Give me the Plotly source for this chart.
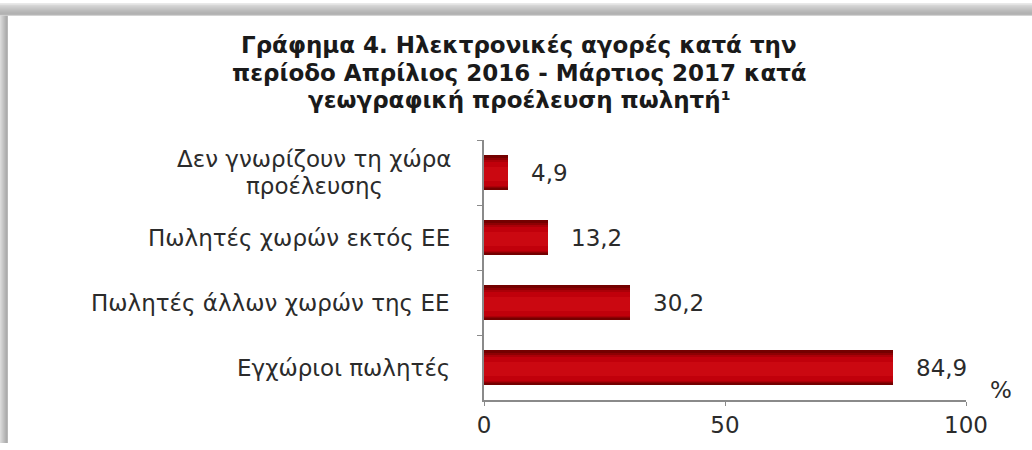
import plotly.graph_objects as go

# Data (top to bottom as displayed)
categories = [
    "Δεν γνωρίζουν τη χώρα<br>προέλευσης",
    "Πωλητές χωρών εκτός ΕΕ",
    "Πωλητές άλλων χωρών της ΕΕ",
    "Εγχώριοι πωλητές",
]
values = [4.9, 13.2, 30.2, 84.9]
value_labels = ["4,9", "13,2", "30,2", "84,9"]
x_ticks = [0, 50, 100]

title_lines = [
    "Γράφημα 4. Ηλεκτρονικές αγορές κατά την",
    "περίοδο Απρίλιος 2016 - Μάρτιος 2017 κατά",
    "γεωγραφική προέλευση πωλητή¹",
]

W, H = 1032, 450
ML, MR, MT, MB = 484, 66, 140, 44
PW, PH = W - ML - MR, H - MT - MB


def px(x):
    return (x - ML) / PW


def py(y):
    return 1 - (y - MT) / PH


FONT = "DejaVu Sans, Verdana, sans-serif"
TEXT = "#2b2b2b"
LABEL_SIZE = 23
LABEL_RIGHT = 452        # right edge of the category label column (px)
LABEL_LINE_GAP = 27      # baseline gap for wrapped category labels (px)
TITLE_SIZE = 23

fig = go.Figure()

# layered bars give the dark-rimmed red shading
bar_layers = [
    (0.53, -0.265, "#740000"),
    (0.47, -0.225, "#8e0003"),
    (0.42, -0.190, "#ab0008"),
    (0.37, -0.160, "#c1000b"),
    (0.22, -0.090, "#cb0811"),
]
for width, offset, color in bar_layers:
    fig.add_trace(go.Bar(
        x=values, y=categories, orientation="h", width=width, offset=offset,
        marker=dict(color=color, line=dict(width=0)),
        hoverinfo="skip", showlegend=False,
    ))

annotations = []
# category labels; wrapped labels have their lines centred on one another
for cat in categories:
    lines = cat.split("<br>")
    if len(lines) == 1:
        annotations.append(dict(
            x=px(LABEL_RIGHT), y=cat, xref="paper", yref="y", text=cat,
            showarrow=False, xanchor="right", yanchor="middle",
            font=dict(family=FONT, size=LABEL_SIZE, color=TEXT),
        ))
    else:
        centre = LABEL_RIGHT - 0.57 * LABEL_SIZE * len(lines[0]) / 2
        n = len(lines)
        for i, ln in enumerate(lines):
            annotations.append(dict(
                x=px(centre), y=cat, xref="paper", yref="y", text=ln,
                showarrow=False, xanchor="center", yanchor="middle",
                yshift=LABEL_LINE_GAP * ((n - 1) / 2 - i),
                font=dict(family=FONT, size=LABEL_SIZE, color=TEXT),
            ))
# value labels
for cat, v, lab in zip(categories, values, value_labels):
    annotations.append(dict(
        x=v, y=cat, xref="x", yref="y", text=lab, showarrow=False,
        xanchor="left", yanchor="middle", xshift=21,
        font=dict(family=FONT, size=23, color=TEXT),
    ))
# percent sign at the end of the value axis
annotations.append(dict(
    x=px(1001), y=py(396), xref="paper", yref="paper", text="%",
    showarrow=False, xanchor="center", yanchor="middle",
    font=dict(family=FONT, size=23, color=TEXT),
))
# title, one annotation per line for tight spacing
for line, ypix in zip(title_lines, [43, 71, 99]):
    annotations.append(dict(
        x=px(519), y=py(ypix), xref="paper", yref="paper",
        text="<b>" + line + "</b>", showarrow=False,
        xanchor="center", yanchor="middle", align="center",
        font=dict(family=FONT, size=TITLE_SIZE, color="#1a1a1a"),
    ))

# soft grey frame shadow along top and left edges
shapes = []
top_cols = ["#e2e2e2", "#dcdcdc", "#d6d6d6", "#d0d0d0", "#cbcbcb", "#c6c6c6",
            "#c1c1c1", "#bcbcbc", "#b8b8b8", "#b4b4b4", "#b2b2b2", "#b6b6b6", "#c4c4c4"]
for i, c in enumerate(top_cols):
    shapes.append(dict(type="rect", xref="paper", yref="paper",
                       x0=px(0), x1=px(W), y0=py(i + 1), y1=py(i),
                       fillcolor=c, line=dict(width=0), layer="below"))
left_cols = ["#dadada", "#d2d2d2", "#cacaca", "#c2c2c2", "#bababa", "#b2b2b2", "#acacac", "#b8b8b8"]
for i, c in enumerate(left_cols):
    shapes.append(dict(type="rect", xref="paper", yref="paper",
                       x0=px(i), x1=px(i + 1), y0=py(H), y1=py(13),
                       fillcolor=c, line=dict(width=0), layer="below"))

fig.update_layout(
    width=W, height=H,
    margin=dict(l=ML, r=MR, t=MT, b=MB),
    paper_bgcolor="white", plot_bgcolor="white",
    barmode="overlay", bargap=0,
    annotations=annotations, shapes=shapes,
    xaxis=dict(
        range=[0, 100], tickvals=x_ticks, ticktext=[str(t) for t in x_ticks],
        showgrid=False, zeroline=False, showline=True, linecolor="#8a8a8a",
        linewidth=1.5, ticks="outside", ticklen=4, tickcolor="#8a8a8a",
        tickfont=dict(family=FONT, size=23, color=TEXT), fixedrange=True,
    ),
    yaxis=dict(
        autorange="reversed", showticklabels=False, showgrid=False,
        zeroline=False, showline=True, linecolor="#8a8a8a", linewidth=1.5,
        ticks="outside", ticklen=5, tickcolor="#8a8a8a", tickson="boundaries",
        fixedrange=True,
    ),
    font=dict(family=FONT),
)

fig.write_html("out.html")
